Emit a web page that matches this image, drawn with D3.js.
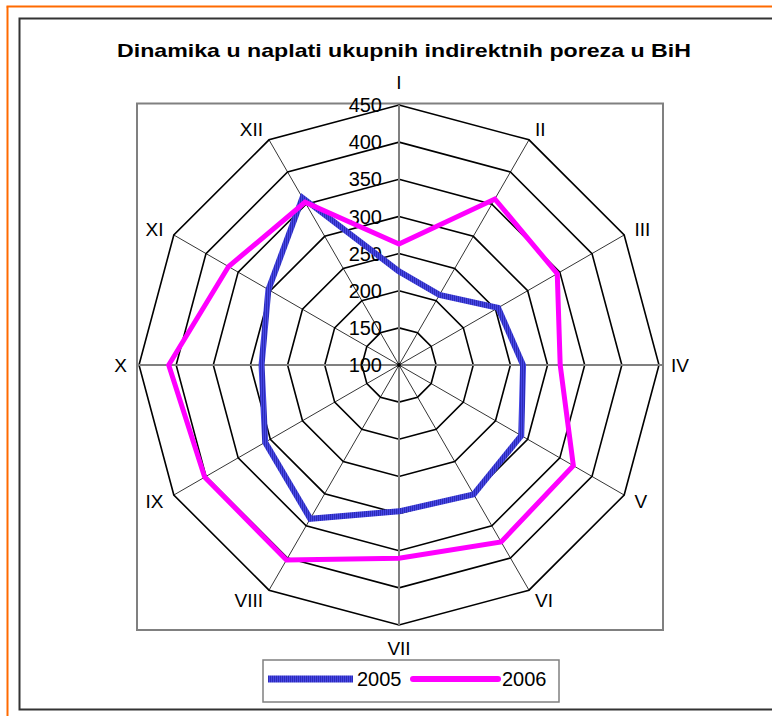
<!DOCTYPE html>
<html>
<head>
<meta charset="utf-8">
<script src="https://cdn.jsdelivr.net/npm/d3@7"></script>
<style>
  body { margin: 0; background: #fff; }
  text { font-family: "Liberation Sans", Arial, sans-serif; }
</style>
</head>
<body>
<div id="chart"></div>
<script>
var width = 772,
    height = 716;

// months (category axes)
var months = ["I", "II", "III", "IV", "V", "VI", "VII", "VIII", "IX", "X", "XI", "XII"];
var years = ["2005", "2006"];
var values2005 = [226, 209, 254, 267, 290, 301, 297, 339, 308, 285, 303, 360];
var values2006 = [263, 358, 346, 317, 371, 375, 360, 403, 402, 410, 365, 353];
var ticks = [100, 150, 200, 250, 300, 350, 400, 450];

var svg = d3.select("#chart").append("svg")
    .attr("width", width)
    .attr("height", height);

// hatch pattern for the 2005 line
var defs = svg.append("defs");
var pat = defs.append("pattern")
    .attr("id", "hatch")
    .attr("patternUnits", "userSpaceOnUse")
    .attr("width", 2)
    .attr("height", 2);
pat.append("rect").attr("width", 2).attr("height", 2).attr("fill", "#4646e6");
pat.append("rect").attr("width", 1).attr("height", 2).attr("fill", "#2c2cb8");

// outer frames
svg.append("line").attr("x1", 7.5).attr("y1", 6.5).attr("x2", 7.5).attr("y2", height)
    .attr("stroke", "#ff6a00").attr("stroke-width", 2);
svg.append("line").attr("x1", 6.5).attr("y1", 6.5).attr("x2", width).attr("y2", 6.5)
    .attr("stroke", "#ff6a00").attr("stroke-width", 2);
svg.append("path")
    .attr("d", "M" + width + ",18.5H19.5V709.5H" + width)
    .attr("fill", "none").attr("stroke", "#333").attr("stroke-width", 2);

// title
svg.append("text")
    .attr("x", 404).attr("y", 57)
    .attr("text-anchor", "middle")
    .attr("font-size", 19)
    .attr("font-weight", "bold")
    .attr("textLength", 574)
    .attr("lengthAdjust", "spacingAndGlyphs")
    .text("Dinamika u naplati ukupnih indirektnih poreza u BiH");

// plot area
svg.append("rect")
    .attr("x", 137).attr("y", 103.5)
    .attr("width", 526).attr("height", 526.5)
    .attr("fill", "none").attr("stroke", "#808080").attr("stroke-width", 2);

var cx = 399, cy = 365, R = 260;
var r = d3.scaleLinear().domain([100, 450]).range([0, R]);
var angle = d3.scalePoint().domain(months).range([0, 2 * Math.PI * 11 / 12]);

function px(m, v) { return cx + r(v) * Math.sin(angle(m)); }
function py(m, v) { return cy - r(v) * Math.cos(angle(m)); }

var g = svg.append("g");

// rings
var ring = d3.line()
    .x(function(m) { return px(m.m, m.v); })
    .y(function(m) { return py(m.m, m.v); })
    .curve(d3.curveLinearClosed);

g.selectAll(".ring")
    .data(ticks.slice(1))
    .enter().append("path")
    .attr("class", "ring")
    .attr("d", function(t) { return ring(months.map(function(m) { return { m: m, v: t }; })); })
    .attr("fill", "none")
    .attr("stroke", "#000")
    .attr("stroke-width", 1.6);

// spokes
g.selectAll(".spoke")
    .data(months)
    .enter().append("line")
    .attr("class", "spoke")
    .attr("x1", cx).attr("y1", cy)
    .attr("x2", function(m) { return px(m, 450); })
    .attr("y2", function(m) { return py(m, 450); })
    .attr("stroke", function(m, i) { return i % 3 == 0 ? "#808080" : "#000"; })
    .attr("stroke-width", function(m, i) { return i % 3 == 0 ? 2 : 0.8; });

// horizontal axis runs to the plot area edges
g.append("line").attr("x1", 137).attr("x2", 663).attr("y1", cy).attr("y2", cy)
    .attr("stroke", "#808080").attr("stroke-width", 2);

g.append("circle").attr("cx", cx).attr("cy", cy).attr("r", 2).attr("fill", "#000");

// tick labels
g.selectAll(".tick")
    .data(ticks)
    .enter().append("text")
    .attr("class", "tick")
    .attr("x", cx - 17)
    .attr("y", function(t) { return cy - r(t); })
    .attr("dy", "0.36em")
    .attr("text-anchor", "end")
    .attr("font-size", 20)
    .text(function(t) { return t; });

// month labels
g.selectAll(".month")
    .data(months)
    .enter().append("text")
    .attr("class", "month")
    .attr("x", function(m) { return cx + (R + 12) * Math.sin(angle(m)); })
    .attr("y", function(m) { return cy - (R + 12) * Math.cos(angle(m)); })
    .attr("text-anchor", function(m) {
        var s = Math.sin(angle(m));
        return s > 0.01 ? "start" : (s < -0.01 ? "end" : "middle");
    })
    .attr("dy", function(m) {
        var c = Math.cos(angle(m));
        return c > 0.9 ? "-0.2em" : (c < -0.9 ? "0.95em" : "0.36em");
    })
    .attr("font-size", 19)
    .text(function(m) { return m; });

// series
var series = [
    { name: years[0], values: values2005, stroke: "url(#hatch)", width: 6 },
    { name: years[1], values: values2006, stroke: "#ff00ff", width: 5 }
];

var line = d3.line()
    .x(function(d, i) { return px(months[i], d); })
    .y(function(d, i) { return py(months[i], d); })
    .curve(d3.curveLinearClosed);

g.selectAll(".series")
    .data(series)
    .enter().append("path")
    .attr("class", "series")
    .attr("d", function(s) { return line(s.values); })
    .attr("fill", "none")
    .attr("stroke", function(s) { return s.stroke; })
    .attr("stroke-width", function(s) { return s.width; })
    .attr("stroke-linejoin", "miter");

// legend
var legend = svg.append("g");
legend.append("rect")
    .attr("x", 263).attr("y", 660)
    .attr("width", 296).attr("height", 42)
    .attr("fill", "#fff").attr("stroke", "#808080").attr("stroke-width", 1.5);

var li = legend.selectAll(".item")
    .data(series)
    .enter().append("g")
    .attr("transform", function(s, i) { return "translate(" + (268 + i * 145) + ",679)"; });
li.append("line")
    .attr("x1", 0).attr("x2", 85)
    .attr("stroke", function(s) { return s.stroke; })
    .attr("stroke-width", function(s) { return s.width + 1; })
    .attr("stroke-linecap", function(s, i) { return i == 1 ? "round" : "butt"; });
li.append("text")
    .attr("x", 89)
    .attr("dy", "0.36em")
    .attr("font-size", 20)
    .text(function(s) { return s.name; });
</script>
</body>
</html>
